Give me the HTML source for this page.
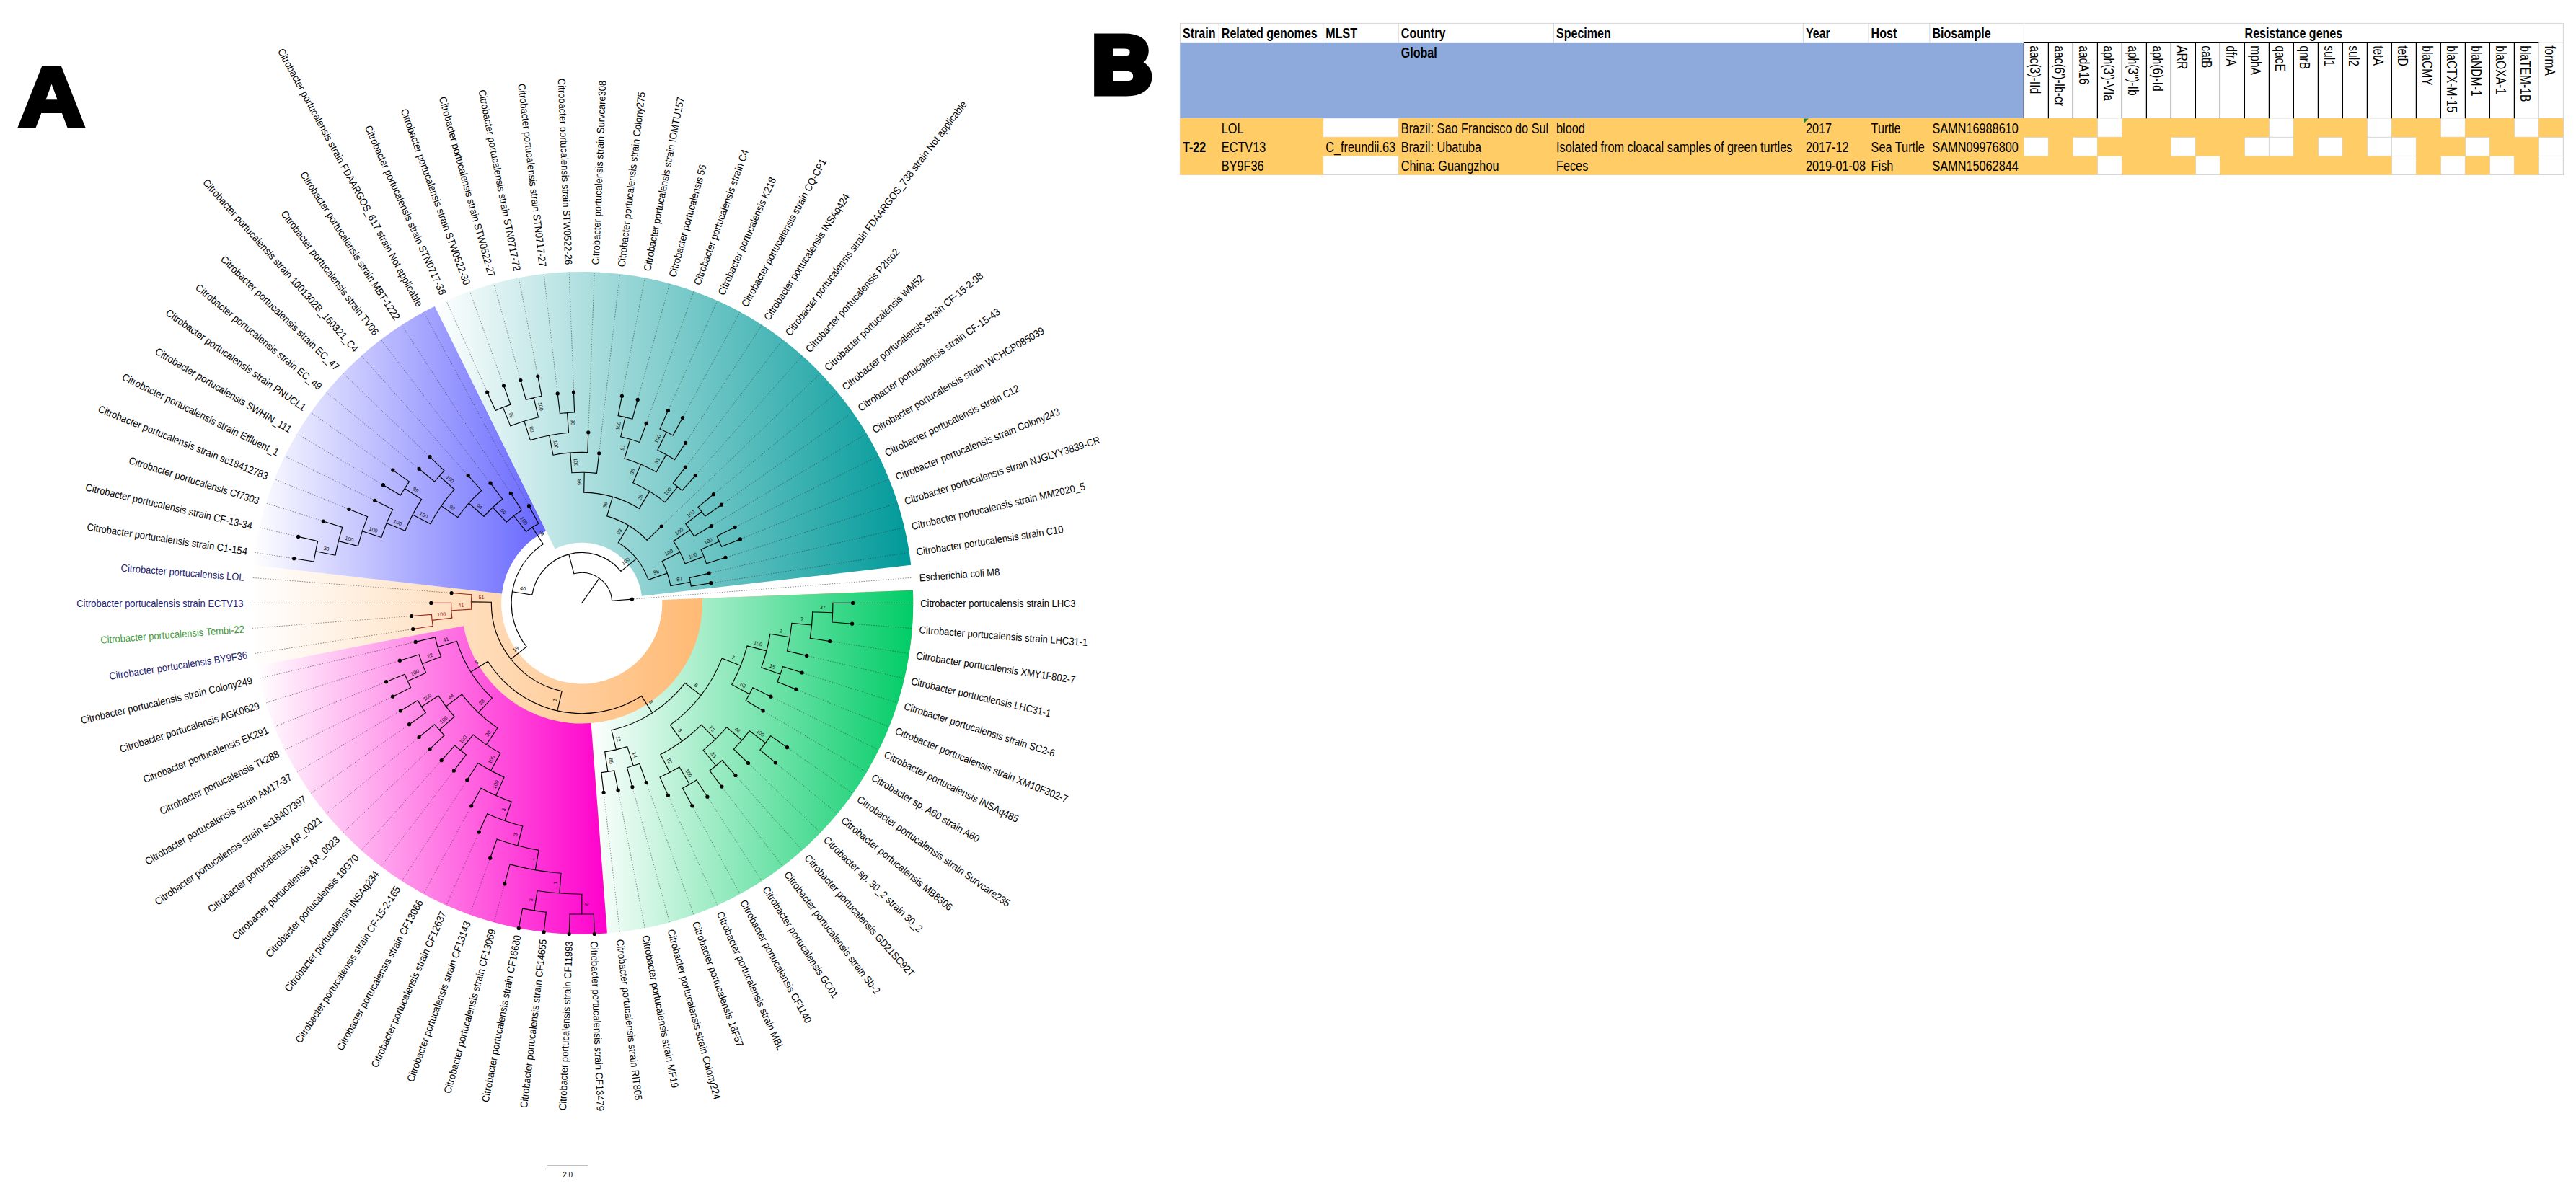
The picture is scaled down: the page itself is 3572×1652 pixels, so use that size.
<!DOCTYPE html>
<html><head><meta charset="utf-8"><title>Figure</title>
<style>html,body{margin:0;padding:0;background:#fff}svg{display:block}text{font-family:"Liberation Sans",sans-serif}</style>
</head><body>
<svg width="3572" height="1652" viewBox="0 0 3572 1652">
<rect width="3572" height="1652" fill="#fff"/>
<defs>
<linearGradient id="go" x1="0" y1="0" x2="1" y2="0"><stop offset="0" stop-color="#fff"/><stop offset="1" stop-color="#FF9933"/></linearGradient>
<linearGradient id="gb" x1="0" y1="0" x2="1" y2="0"><stop offset="0" stop-color="#fff"/><stop offset="1" stop-color="#6666FF"/></linearGradient>
<linearGradient id="gt" x1="0" y1="0" x2="1" y2="0"><stop offset="0" stop-color="#fff"/><stop offset="1" stop-color="#009999"/></linearGradient>
<linearGradient id="gg" x1="0" y1="0" x2="1" y2="0"><stop offset="0" stop-color="#fff"/><stop offset="1" stop-color="#00CC66"/></linearGradient>
<linearGradient id="gm" x1="0" y1="0" x2="1" y2="0"><stop offset="0" stop-color="#fff"/><stop offset="1" stop-color="#FF00CC"/></linearGradient>
</defs>
<path d="M918.2 832.1L1265.9 818.8A459.4 459.4 0 1 1 350.3 783.7L695.9 823.6A111.6 111.6 0 1 0 918.2 832.1Z" fill="url(#go)"/>
<path d="M695.9 823.6L350.3 783.7A459.4 459.4 0 0 1 602.9 424.7L757.2 736.4A111.6 111.6 0 0 0 695.9 823.6Z" fill="url(#gb)"/>
<path d="M769.6 761.4L602.9 424.7A459.4 459.4 0 0 1 1263.2 783.7L889.9 826.8A83.7 83.7 0 0 0 769.6 761.4Z" fill="url(#gt)"/>
<path d="M973.9 830L1265.9 818.8A459.4 459.4 0 0 1 841.9 1294.5L819.6 1003.1A167.2 167.2 0 0 0 973.9 830Z" fill="url(#gg)"/>
<path d="M819.6 1003.1L841.9 1294.5A459.4 459.4 0 0 1 355.7 923.9L642.6 868.2A167.2 167.2 0 0 0 819.6 1003.1Z" fill="url(#gm)"/>
<path d="M1185.2 836.4L1265.7 836.4M1184.1 865.4L1264.4 871.5M1153.3 889.9L1260.3 906.5M1121.1 910L1253.6 941M1114.5 933.8L1244.3 974.9M1106.1 957.1L1232.4 1008M1071.1 967.3L1218 1040M1060.3 987.1L1201.2 1070.9M1093.5 1038.1L1182.1 1100.4M1077.3 1059.5L1160.8 1128.4M1039.3 1060.2L1137.4 1154.7M1021.5 1077.4L1112.1 1179M1002.4 1093.1L1085 1201.4M982.2 1107.3L1056.2 1221.6M961 1120L1026 1239.6M927.4 1105.6L994.5 1255.2M897 1087.8L961.9 1268.3M877.5 1094L928.4 1278.9M857.6 1098.7L894.1 1287M837.4 1101.8L859.4 1292.3M824.4 1298L824.3 1295M789.1 1298L789.2 1295M753.8 1295.3L754.1 1292.3M718.8 1289.9L719.4 1287M699.1 1228.2L685.1 1278.9M678.8 1192.6L651.6 1268.3M663.3 1156.4L619 1255.2M652.5 1120L587.5 1239.6M646.4 1084L557.3 1221.6M627.9 1071L528.5 1201.4M610.5 1056.6L501.4 1179M594.2 1040.9L476.1 1154.7M579.2 1024.1L452.7 1128.4M565.5 1006.1L431.4 1100.4M553.2 987.1L412.3 1070.9M542.4 967.3L395.5 1040M533.2 946.7L381.1 1008M552.1 917L369.2 974.9M573.7 890.9L359.9 941M570.2 872.9L353.2 906.5M568.1 854.7L349.1 871.5M595.3 836.4L347.8 836.4M623.6 822.3L349.1 801.3M405.2 774.4L353.2 766.3M411.1 743.8L359.9 731.8M445.9 722.2L369.2 697.9M481.5 705.3L381.1 664.8M517.5 693.2L395.5 632.8M529.3 671.4L412.3 601.9M542.7 650.7L431.4 572.4M579.2 648.7L452.7 544.4M594.2 631.9L476.1 518.1M647.5 657.7L501.4 493.8M678.5 668.2L528.5 471.4M706.9 682.3L557.3 451.2M732.3 699.5L587.5 433.2M674.7 541.8L619 417.6M697.6 532.6L651.6 404.5M721.2 525.1L685.1 393.9M745.3 519.5L719.4 385.8M772.9 543.4L754.1 380.5M795.5 541.6L789.2 377.8M815.9 597.3L824.3 377.8M831 626.3L859.4 380.5M862.9 546.8L894.1 385.8M884.9 552L928.4 393.9M897 585L961.9 404.5M927.4 567.2L994.5 417.6M947.7 577.3L1026 433.2M952 612.2L1056.2 451.2M951.8 646.1L1085 471.4M966 657.7L1112.1 493.8M919 728.3L1137.4 518.1M991.4 684.1L1160.8 544.4M1002.5 698.7L1182.1 572.4M988.5 728.3L1201.2 601.9M1021.2 730.2L1218 632.8M1028.7 746.9L1232.4 664.8M1008.4 772.6L1244.3 697.9M985.6 794.6L1253.6 731.8M988.2 808.4L1260.3 766.3M878.9 830.9L1264.4 801.3" fill="none" stroke="#333" stroke-width="0.7" stroke-dasharray="1.5 1.9" opacity="0.8"/>
<path d="M1154.9 836.4A348.1 348.1 0 0 1 1153.9 863M1154.9 836.4L1182.7 836.4M1153.9 863L1181.6 865.2M1126.8 848.7A320.3 320.3 0 0 1 1123.3 885.3M1126.8 848.7L1154.6 849.7M1123.3 885.3L1150.8 889.5M1097.9 864.4A292.5 292.5 0 0 1 1091.5 903M1097.9 864.4L1125.6 867M1091.5 903L1118.6 909.4M1085.6 924.6A292.5 292.5 0 0 1 1078 945.7M1085.6 924.6L1112.1 933M1078 945.7L1103.8 956.1M1067.9 879.3A264.6 264.6 0 0 1 1055.8 925.9M1067.9 879.3L1095.4 883.8M1055.8 925.9L1082 935.3M1043.9 953.8A264.6 264.6 0 0 1 1034.2 971.6M1043.9 953.8L1068.9 966.2M1034.2 971.6L1058.1 985.9M1036 895.9A236.8 236.8 0 0 1 1014.8 949.5M1036 895.9L1062.9 902.9M1014.8 949.5L1039.2 962.8M1068.7 1020.7A320.3 320.3 0 0 1 1053.9 1040.2M1068.7 1020.7L1091.5 1036.7M1053.9 1040.2L1075.3 1057.9M1039.3 1013.7A292.5 292.5 0 0 1 1017.5 1039.2M1039.3 1013.7L1061.5 1030.6M1017.5 1039.2L1037.5 1058.5M1001.3 1054.7A292.5 292.5 0 0 1 984.1 1069M1001.3 1054.7L1019.9 1075.5M984.1 1069L1000.9 1091.1M1007.7 1008.7A264.6 264.6 0 0 1 975.1 1040.6M1007.7 1008.7L1028.8 1026.8M975.1 1040.6L992.8 1062M965.7 1081.9A292.5 292.5 0 0 1 946.5 1093.3M965.7 1081.9L980.9 1105.2M946.5 1093.3L959.8 1117.8M942 1063.9A264.6 264.6 0 0 1 915 1077.9M942 1063.9L956.2 1087.8M915 1077.9L926.4 1103.3M972.6 1005.4A236.8 236.8 0 0 1 915.9 1046.6M972.6 1005.4L992.1 1025.3M915.9 1046.6L928.7 1071.3M1001.1 913.1A209 209 0 0 1 929.4 1005.6M1001.1 913.1L1027 923.3M929.4 1005.6L945.8 1028.1M886.8 1059.3A236.8 236.8 0 0 1 869.5 1064.7M886.8 1059.3L896.2 1085.5M869.5 1064.7L876.9 1091.6M851.8 1068.9A236.8 236.8 0 0 1 833.9 1071.6M851.8 1068.9L857.1 1096.2M833.9 1071.6L837.1 1099.3M869.8 1035.6A209 209 0 0 1 838.7 1042.9M869.8 1035.6L878.2 1062.2M838.7 1042.9L842.9 1070.4M949.9 947.4A181.1 181.1 0 0 1 848 1012.8M949.9 947.4L971.9 964.5M848 1012.8L854.4 1039.9M823.3 1267.7A431.6 431.6 0 0 1 790.2 1267.7M823.3 1267.7L824.3 1295.5M790.2 1267.7L789.2 1295.5M757.3 1265.2A431.6 431.6 0 0 1 724.6 1260.1M757.3 1265.2L754.1 1292.8M724.6 1260.1L719.3 1287.4M806.8 1240.2A403.8 403.8 0 0 1 745.1 1235.5M806.8 1240.2L806.8 1268M745.1 1235.5L740.9 1263M778 1211.3A376 376 0 0 1 707.1 1198.9M778 1211.3L775.8 1239M707.1 1198.9L699.8 1225.8M747 1179.4A348.1 348.1 0 0 1 689.1 1164M747 1179.4L742.3 1206.8M689.1 1164L679.7 1190.2M724.8 1146A320.3 320.3 0 0 1 675.7 1128.7M724.8 1146L717.7 1173M675.7 1128.7L664.3 1154.1M709.2 1112.1A292.5 292.5 0 0 1 667 1093.3M709.2 1112.1L699.9 1138.4M667 1093.3L653.7 1117.8M699.1 1078.1A264.6 264.6 0 0 1 662.9 1058.5M699.1 1078.1L687.7 1103.6M662.9 1058.5L647.8 1081.9M646.3 1046.9A264.6 264.6 0 0 1 630.7 1034M646.3 1046.9L629.4 1069M630.7 1034L612.2 1054.7M693.9 1044.6A236.8 236.8 0 0 1 656.1 1019.1M693.9 1044.6L680.6 1069M656.1 1019.1L638.4 1040.6M616.1 1019.9A264.6 264.6 0 0 1 602.6 1004.8M616.1 1019.9L596 1039.2M602.6 1004.8L581.1 1022.5M590.3 988.7A264.6 264.6 0 0 1 579.3 971.6M590.3 988.7L567.5 1004.7M579.3 971.6L555.4 985.9M630 994A236.8 236.8 0 0 1 608 965.1M630 994L609.2 1012.5M608 965.1L584.6 980.2M689.9 1009.7A209 209 0 0 1 640.5 963.1M689.9 1009.7L674.4 1032.7M640.5 963.1L618.4 980M569.6 953.8A264.6 264.6 0 0 1 561.3 935.3M569.6 953.8L544.6 966.2M561.3 935.3L535.5 945.7M590.7 933.3A236.8 236.8 0 0 1 581 907.9M590.7 933.3L565.3 944.7M581 907.9L554.4 916.2M611.5 910.8A209 209 0 0 1 603.3 884M611.5 910.8L585.5 920.7M603.3 884L576.2 890.4M682.4 968.2A181.1 181.1 0 0 1 633.5 889.4M682.4 968.2L663.3 988.4M633.5 889.4L606.9 897.5M889.5 965.4A153.3 153.3 0 0 1 676.5 917.3M889.5 965.4L904.6 988.9M676.5 917.3L652.9 932M779.1 958.8A125.5 125.5 0 0 1 681.3 835.2M779.1 958.8L772.9 985.9M681.3 835.2L653.4 834.9M435.2 779A376 376 0 0 1 440.7 750.7M435.2 779L407.7 774.8M440.7 750.7L413.6 744.4M465 770.1A348.1 348.1 0 0 1 474.8 731.4M465 770.1L437.7 764.8M474.8 731.4L448.3 723M496.3 757.5A320.3 320.3 0 0 1 509.7 716.7M496.3 757.5L469.4 750.6M509.7 716.7L483.9 706.3M528.8 745.5A292.5 292.5 0 0 1 544.6 706.6M528.8 745.5L502.3 736.8M544.6 706.6L519.7 694.3M555.4 686.9A292.5 292.5 0 0 1 567.5 668.1M555.4 686.9L531.4 672.7M567.5 668.1L544.8 652.1M561.8 736.3A264.6 264.6 0 0 1 584.6 692.6M561.8 736.3L536 725.8M584.6 692.6L561.3 677.4M602.6 668A264.6 264.6 0 0 1 616.1 652.9M602.6 668L581.1 650.3M616.1 652.9L596 633.6M596.8 726.8A236.8 236.8 0 0 1 630 678.8M596.8 726.8L572.2 713.9M630 678.8L609.2 660.3M634.8 717.6A209 209 0 0 1 667.7 680.4M634.8 717.6L611.9 701.8M667.7 680.4L649.2 659.6M671 716.4A181.1 181.1 0 0 1 696.9 692.3M671 716.4L650.2 698M696.9 692.3L680.1 670.2M702.3 724.1A153.3 153.3 0 0 1 723.4 707.7M702.3 724.1L683.4 703.8M723.4 707.7L708.3 684.3M729.6 737.4A125.5 125.5 0 0 1 746.8 726.2M729.6 737.4L712.5 715.5M746.8 726.2L733.5 701.7M730.2 897A97.7 97.7 0 0 1 753.2 754.7M730.2 897L708.3 914.3M753.2 754.7L738 731.4M687.1 569.5A292.5 292.5 0 0 1 707.9 561.1M687.1 569.5L675.7 544.1M707.9 561.1L698.5 535M729.3 554.4A292.5 292.5 0 0 1 751.1 549.3M729.3 554.4L721.9 527.5M751.1 549.3L745.8 522M707.8 590.9A264.6 264.6 0 0 1 746.5 578.7M707.8 590.9L697.4 565.1M746.5 578.7L740.1 551.6M776.4 573.5A264.6 264.6 0 0 1 796.6 572M776.4 573.5L773.2 545.9M796.6 572L795.5 544.1M735.3 610.6A236.8 236.8 0 0 1 788.6 600.3M735.3 610.6L726.9 584.1M788.6 600.3L786.5 572.5M767 631.2A209 209 0 0 1 814.8 627.6M767 631.2L761.7 603.9M814.8 627.6L815.8 599.8M792.9 655.8A181.1 181.1 0 0 1 827.5 656.4M792.9 655.8L790.8 628M827.5 656.4L830.7 628.8M857.1 576.6A264.6 264.6 0 0 1 876.9 581.2M857.1 576.6L862.4 549.3M876.9 581.2L884.2 554.4M860.7 605.8A236.8 236.8 0 0 1 886.8 613.5M860.7 605.8L867 578.7M886.8 613.5L896.2 587.3M915 594.9A264.6 264.6 0 0 1 933.2 603.9M915 594.9L926.4 569.5M933.2 603.9L946.5 579.5M911.8 624.2A236.8 236.8 0 0 1 935.5 637.6M911.8 624.2L924.2 599.2M935.5 637.6L950.6 614.3M866 636A209 209 0 0 1 910.1 654.8M866 636L873.9 609.3M910.1 654.8L923.8 630.6M933.4 670.2A209 209 0 0 1 945.8 680.4M933.4 670.2L950.3 648.1M945.8 680.4L964.3 659.6M877.7 669.7A181.1 181.1 0 0 1 922 696.6M877.7 669.7L888.6 644.1M922 696.6L939.7 675.2M809.7 683.1A153.3 153.3 0 0 1 886.4 705.4M809.7 683.1L810.2 655.3M886.4 705.4L900.8 681.6M841.7 715.9A125.5 125.5 0 0 1 897.2 749.4M841.7 715.9L849.5 689.2M897.2 749.4L917.2 730.1M968 703.4A209 209 0 0 1 977.7 716.2M968 703.4L989.4 685.7M977.7 716.2L1000.4 700.2M950.8 726.6A181.1 181.1 0 0 1 962.5 743.8M950.8 726.6L973 709.7M962.5 743.8L986.4 729.6M994 743.7A209 209 0 0 1 1000.6 758.3M994 743.7L1019 731.3M1000.6 758.3L1026.4 747.9M972.1 762.3A181.1 181.1 0 0 1 979.5 781.7M972.1 762.3L997.4 750.9M979.5 781.7L1006 773.3M933.8 750.6A153.3 153.3 0 0 1 950 781.8M933.8 750.6L956.9 735M950 781.8L976 771.9M956 801.5A153.3 153.3 0 0 1 958.3 813M956 801.5L983.1 795.1M958.3 813L985.8 808.7M918.1 778.6A125.5 125.5 0 0 1 929.9 812.5M918.1 778.6L942.8 765.7M929.9 812.5L957.3 807.2M857.3 752.8A97.7 97.7 0 0 1 899 804.3M857.3 752.8L871.7 729M899 804.3L925.3 795.1M737.8 825.2A69.8 69.8 0 0 1 861 792.4M737.8 825.2L710.3 820.8M861 792.4L882.6 774.9M795.9 795.8A42 42 0 0 1 848.6 833.2M795.9 795.8L788.8 768.9M848.6 833.2L876.4 831.1M806.8 836.4L831 802.1" fill="none" stroke="#000" stroke-width="1.15" stroke-linecap="square"/>
<path d="M600.2 868.3A209 209 0 0 1 598.4 852.4M600.2 868.3L572.7 872.5M598.4 852.4L570.6 854.5M626.8 857.2A181.1 181.1 0 0 1 625.6 836.4M626.8 857.2L599.1 860.4M625.6 836.4L597.8 836.4M653.7 845.2A153.3 153.3 0 0 1 653.9 824.7M653.7 845.2L625.9 846.8M653.9 824.7L626.1 822.5" fill="none" stroke="#9c2b1e" stroke-width="1.15" stroke-linecap="square"/>
<g fill="#000"><circle cx="1182.7" cy="836.4" r="2.6"/><circle cx="1181.6" cy="865.2" r="2.6"/><circle cx="1150.8" cy="889.5" r="2.6"/><circle cx="1118.6" cy="909.4" r="2.6"/><circle cx="1112.1" cy="933" r="2.6"/><circle cx="1103.8" cy="956.1" r="2.6"/><circle cx="1068.9" cy="966.2" r="2.6"/><circle cx="1058.1" cy="985.9" r="2.6"/><circle cx="1091.5" cy="1036.7" r="2.6"/><circle cx="1075.3" cy="1057.9" r="2.6"/><circle cx="1037.5" cy="1058.5" r="2.6"/><circle cx="1019.9" cy="1075.5" r="2.6"/><circle cx="1000.9" cy="1091.1" r="2.6"/><circle cx="980.9" cy="1105.2" r="2.6"/><circle cx="959.8" cy="1117.8" r="2.6"/><circle cx="926.4" cy="1103.3" r="2.6"/><circle cx="896.2" cy="1085.5" r="2.6"/><circle cx="876.9" cy="1091.6" r="2.6"/><circle cx="857.1" cy="1096.2" r="2.6"/><circle cx="837.1" cy="1099.3" r="2.6"/><circle cx="824.3" cy="1295.5" r="2.6"/><circle cx="789.2" cy="1295.5" r="2.6"/><circle cx="754.1" cy="1292.8" r="2.6"/><circle cx="719.3" cy="1287.4" r="2.6"/><circle cx="699.8" cy="1225.8" r="2.6"/><circle cx="679.7" cy="1190.2" r="2.6"/><circle cx="664.3" cy="1154.1" r="2.6"/><circle cx="653.7" cy="1117.8" r="2.6"/><circle cx="647.8" cy="1081.9" r="2.6"/><circle cx="629.4" cy="1069" r="2.6"/><circle cx="612.2" cy="1054.7" r="2.6"/><circle cx="596" cy="1039.2" r="2.6"/><circle cx="581.1" cy="1022.5" r="2.6"/><circle cx="567.5" cy="1004.7" r="2.6"/><circle cx="555.4" cy="985.9" r="2.6"/><circle cx="544.6" cy="966.2" r="2.6"/><circle cx="535.5" cy="945.7" r="2.6"/><circle cx="554.4" cy="916.2" r="2.6"/><circle cx="576.2" cy="890.4" r="2.6"/><circle cx="572.7" cy="872.5" r="2.6"/><circle cx="570.6" cy="854.5" r="2.6"/><circle cx="597.8" cy="836.4" r="2.6"/><circle cx="626.1" cy="822.5" r="2.6"/><circle cx="407.7" cy="774.8" r="2.6"/><circle cx="413.6" cy="744.4" r="2.6"/><circle cx="448.3" cy="723" r="2.6"/><circle cx="483.9" cy="706.3" r="2.6"/><circle cx="519.7" cy="694.3" r="2.6"/><circle cx="531.4" cy="672.7" r="2.6"/><circle cx="544.8" cy="652.1" r="2.6"/><circle cx="581.1" cy="650.3" r="2.6"/><circle cx="596" cy="633.6" r="2.6"/><circle cx="649.2" cy="659.6" r="2.6"/><circle cx="680.1" cy="670.2" r="2.6"/><circle cx="708.3" cy="684.3" r="2.6"/><circle cx="733.5" cy="701.7" r="2.6"/><circle cx="675.7" cy="544.1" r="2.6"/><circle cx="698.5" cy="535" r="2.6"/><circle cx="721.9" cy="527.5" r="2.6"/><circle cx="745.8" cy="522" r="2.6"/><circle cx="773.2" cy="545.9" r="2.6"/><circle cx="795.5" cy="544.1" r="2.6"/><circle cx="815.8" cy="599.8" r="2.6"/><circle cx="830.7" cy="628.8" r="2.6"/><circle cx="862.4" cy="549.3" r="2.6"/><circle cx="884.2" cy="554.4" r="2.6"/><circle cx="896.2" cy="587.3" r="2.6"/><circle cx="926.4" cy="569.5" r="2.6"/><circle cx="946.5" cy="579.5" r="2.6"/><circle cx="950.6" cy="614.3" r="2.6"/><circle cx="950.3" cy="648.1" r="2.6"/><circle cx="964.3" cy="659.6" r="2.6"/><circle cx="917.2" cy="730.1" r="2.6"/><circle cx="989.4" cy="685.7" r="2.6"/><circle cx="1000.4" cy="700.2" r="2.6"/><circle cx="986.4" cy="729.6" r="2.6"/><circle cx="1019" cy="731.3" r="2.6"/><circle cx="1026.4" cy="747.9" r="2.6"/><circle cx="1006" cy="773.3" r="2.6"/><circle cx="983.1" cy="795.1" r="2.6"/><circle cx="985.8" cy="808.7" r="2.6"/><circle cx="876.4" cy="831.1" r="2.6"/></g>
<g font-size="7.2" text-anchor="middle" fill="#111"><text transform="translate(1140.7 849.2) rotate(2.2)" y="-4.2">37</text><text transform="translate(1111.7 865.7) rotate(5.5)" y="-4.2">7</text><text transform="translate(1081.6 881.6) rotate(9.3)" y="-4.2">2</text><text transform="translate(1068.9 930.6) rotate(19.8)" y="-4.2">15</text><text transform="translate(1049.4 899.4) rotate(14.5)" y="-4.2">100</text><text transform="translate(1027 956.2) rotate(28.5)" y="-4.2">63</text><text transform="translate(1050.4 1022.1) rotate(37.3)" y="-4.2">100</text><text transform="translate(1018.2 1017.7) rotate(40.6)" y="-4.2">46</text><text transform="translate(984 1051.3) rotate(50.5)" y="-4.2">33</text><text transform="translate(949.1 1075.8) rotate(59.3)" y="-4.2">100</text><text transform="translate(982.3 1015.4) rotate(45.5)" y="-4.2">73</text><text transform="translate(922.3 1058.9) rotate(62.6)" y="-4.2">82</text><text transform="translate(1014.1 918.2) rotate(21.5)" y="-4.2">7</text><text transform="translate(937.6 1016.9) rotate(54.1)" y="-4.2">8</text><text transform="translate(874 1048.9) rotate(72.4)" y="-4.2">14</text><text transform="translate(840.8 1056.7) rotate(81.2)" y="-4.2">85</text><text transform="translate(960.9 955.9) rotate(37.8)" y="-4.2">6</text><text transform="translate(851.2 1026.3) rotate(76.8)" y="-4.2">12</text><text transform="translate(806.8 1254.1) rotate(90)" y="-4.2">3</text><text transform="translate(743 1249.2) rotate(278.8)" y="-4.2">3</text><text transform="translate(776.9 1225.1) rotate(274.4)" y="-4.2">1</text><text transform="translate(744.6 1193.1) rotate(279.9)" y="-4.2">1</text><text transform="translate(721.3 1159.5) rotate(284.8)" y="-4.2">3</text><text transform="translate(704.6 1125.2) rotate(289.5)" y="-4.2">3</text><text transform="translate(693.4 1090.9) rotate(294)" y="-4.2">100</text><text transform="translate(687.2 1056.8) rotate(298.5)" y="-4.2">100</text><text transform="translate(647.2 1029.8) rotate(309.5)" y="-4.2">100</text><text transform="translate(619.6 1003.2) rotate(318.3)" y="-4.2">100</text><text transform="translate(596.3 972.7) rotate(327.1)" y="-4.2">100</text><text transform="translate(682.1 1021.2) rotate(304)" y="-4.2">30</text><text transform="translate(629.5 971.5) rotate(322.7)" y="-4.2">44</text><text transform="translate(578 939) rotate(335.9)" y="-4.2">100</text><text transform="translate(598.5 915.7) rotate(339.1)" y="-4.2">22</text><text transform="translate(672.9 978.3) rotate(313.3)" y="-4.2">28</text><text transform="translate(620.2 893.5) rotate(343)" y="-4.2">41</text><text transform="translate(897.1 977.2) rotate(57.3)" y="-4.2">3</text><text transform="translate(664.7 924.6) rotate(328.2)" y="-4.2">5</text><text transform="translate(613 858.8) rotate(353.4)" y="-4.2" fill="#9c2b1e">100</text><text transform="translate(639.8 846) rotate(356.7)" y="-4.2" fill="#9c2b1e">41</text><text transform="translate(776 972.4) rotate(282.7)" y="-4.2">1</text><text transform="translate(667.4 835.1) rotate(0.5)" y="-4.2" fill="#9c2b1e">51</text><text transform="translate(451.3 767.5) rotate(11)" y="-4.2">38</text><text transform="translate(482.8 754) rotate(14.3)" y="-4.2">100</text><text transform="translate(515.5 741.2) rotate(18.1)" y="-4.2">100</text><text transform="translate(548.9 731) rotate(22.2)" y="-4.2">100</text><text transform="translate(572.9 685) rotate(32.9)" y="-4.2">99</text><text transform="translate(584.5 720.3) rotate(27.6)" y="-4.2">100</text><text transform="translate(619.6 669.6) rotate(41.7)" y="-4.2">100</text><text transform="translate(623.4 709.7) rotate(34.6)" y="-4.2">93</text><text transform="translate(660.6 707.2) rotate(41.5)" y="-4.2">64</text><text transform="translate(692.9 713.9) rotate(47.1)" y="-4.2">69</text><text transform="translate(721.1 726.4) rotate(52.1)" y="-4.2">100</text><text transform="translate(719.3 905.6) rotate(321.6)" y="-4.2">19</text><text transform="translate(745.6 743.1) rotate(56.8)" y="-4.2">94</text><text transform="translate(702.6 578) rotate(68)" y="-4.2">79</text><text transform="translate(743.3 565.2) rotate(76.8)" y="-4.2">100</text><text transform="translate(731.1 597.4) rotate(72.4)" y="-4.2">80</text><text transform="translate(787.6 586.4) rotate(85.6)" y="-4.2">96</text><text transform="translate(764.3 617.6) rotate(79)" y="-4.2">100</text><text transform="translate(791.8 641.9) rotate(85.6)" y="-4.2">100</text><text transform="translate(863.9 592.3) rotate(283.2)" y="-4.2">100</text><text transform="translate(918 611.7) rotate(296.3)" y="-4.2">100</text><text transform="translate(869.9 622.6) rotate(286.5)" y="-4.2">91</text><text transform="translate(917 642.7) rotate(299.6)" y="-4.2">33</text><text transform="translate(883.1 656.9) rotate(293)" y="-4.2">36</text><text transform="translate(930.9 685.9) rotate(309.5)" y="-4.2">100</text><text transform="translate(810 669.2) rotate(271.1)" y="-4.2">98</text><text transform="translate(893.6 693.5) rotate(301.3)" y="-4.2">28</text><text transform="translate(845.6 702.5) rotate(286.2)" y="-4.2">36</text><text transform="translate(961.9 718.1) rotate(322.7)" y="-4.2">100</text><text transform="translate(984.7 756.6) rotate(335.9)" y="-4.2">100</text><text transform="translate(945.4 742.8) rotate(326)" y="-4.2">100</text><text transform="translate(963 776.9) rotate(339.1)" y="-4.2">100</text><text transform="translate(930.5 772.2) rotate(332.6)" y="-4.2">100</text><text transform="translate(943.6 809.9) rotate(349)" y="-4.2">87</text><text transform="translate(864.5 740.9) rotate(301.1)" y="-4.2">93</text><text transform="translate(912.1 799.7) rotate(340.8)" y="-4.2">98</text><text transform="translate(724.1 823) rotate(9.2)" y="-4.2">40</text><text transform="translate(871.8 783.7) rotate(321)" y="-4.2">100</text></g>
<g font-size="14.3" fill="#000"><text transform="translate(1276.2 836.4) rotate(0) scale(.907 1)" y="5.9">Citrobacter portucalensis strain LHC3</text><text transform="translate(1274.8 872.3) rotate(4.4) scale(.907 1)" y="5.9">Citrobacter portucalensis strain LHC31-1</text><text transform="translate(1270.6 908.1) rotate(8.8) scale(.907 1)" y="5.9">Citrobacter portucalensis XMY1F802-7</text><text transform="translate(1263.8 943.4) rotate(13.2) scale(.907 1)" y="5.9">Citrobacter portucalensis LHC31-1</text><text transform="translate(1254.3 978) rotate(17.6) scale(.907 1)" y="5.9">Citrobacter portucalensis strain SC2-6</text><text transform="translate(1242.1 1011.9) rotate(22) scale(.907 1)" y="5.9">Citrobacter portucalensis strain XM10F302-7</text><text transform="translate(1227.4 1044.7) rotate(26.3) scale(.907 1)" y="5.9">Citrobacter portucalensis INSAq485</text><text transform="translate(1210.2 1076.3) rotate(30.7) scale(.907 1)" y="5.9">Citrobacter sp. A60 strain A60</text><text transform="translate(1190.7 1106.5) rotate(35.1) scale(.907 1)" y="5.9">Citrobacter portucalensis strain Survcare235</text><text transform="translate(1168.9 1135.1) rotate(39.5) scale(.907 1)" y="5.9">Citrobacter portucalensis MB8306</text><text transform="translate(1145 1161.9) rotate(43.9) scale(.907 1)" y="5.9">Citrobacter sp. 30_2 strain 30_2</text><text transform="translate(1119.1 1186.8) rotate(48.3) scale(.907 1)" y="5.9">Citrobacter portucalensis GD21SC92T</text><text transform="translate(1091.3 1209.7) rotate(52.7) scale(.907 1)" y="5.9">Citrobacter portucalensis strain Sb-2</text><text transform="translate(1061.9 1230.4) rotate(57.1) scale(.907 1)" y="5.9">Citrobacter portucalensis GC01</text><text transform="translate(1031 1248.8) rotate(61.5) scale(.907 1)" y="5.9">Citrobacter portucalensis CF1140</text><text transform="translate(998.8 1264.7) rotate(65.9) scale(.907 1)" y="5.9">Citrobacter portucalensis strain MBL</text><text transform="translate(965.4 1278.2) rotate(70.2) scale(.907 1)" y="5.9">Citrobacter portucalensis 16F57</text><text transform="translate(931.1 1289) rotate(74.6) scale(.907 1)" y="5.9">Citrobacter portucalensis strain Colony224</text><text transform="translate(896.1 1297.2) rotate(79) scale(.907 1)" y="5.9">Citrobacter portucalensis strain MF19</text><text transform="translate(860.6 1302.7) rotate(83.4) scale(.907 1)" y="5.9">Citrobacter portucalensis strain RIT805</text><text transform="translate(824.7 1305.5) rotate(87.8) scale(.907 1)" y="5.9">Citrobacter portucalensis strain CF13479</text><text transform="translate(788.8 1305.5) rotate(272.2) scale(.907 1)" y="5.2" text-anchor="end">Citrobacter portucalensis strain CF11993</text><text transform="translate(752.9 1302.7) rotate(276.6) scale(.907 1)" y="5.2" text-anchor="end">Citrobacter portucalensis strain CF14655</text><text transform="translate(717.4 1297.2) rotate(281) scale(.907 1)" y="5.2" text-anchor="end">Citrobacter portucalensis strain CF16680</text><text transform="translate(682.4 1289) rotate(285.4) scale(.907 1)" y="5.2" text-anchor="end">Citrobacter portucalensis strain CF13069</text><text transform="translate(648.1 1278.2) rotate(289.8) scale(.907 1)" y="5.2" text-anchor="end">Citrobacter portucalensis strain CF13143</text><text transform="translate(614.7 1264.7) rotate(294.1) scale(.907 1)" y="5.2" text-anchor="end">Citrobacter portucalensis strain CF12637</text><text transform="translate(582.5 1248.8) rotate(298.5) scale(.907 1)" y="5.2" text-anchor="end">Citrobacter portucalensis strain CF13066</text><text transform="translate(551.6 1230.4) rotate(302.9) scale(.907 1)" y="5.2" text-anchor="end">Citrobacter portucalensis strain CF-15-2-165</text><text transform="translate(522.2 1209.7) rotate(307.3) scale(.907 1)" y="5.2" text-anchor="end">Citrobacter portucalensis INSAq234</text><text transform="translate(494.4 1186.8) rotate(311.7) scale(.907 1)" y="5.2" text-anchor="end">Citrobacter portucalensis 16G70</text><text transform="translate(468.5 1161.9) rotate(316.1) scale(.907 1)" y="5.2" text-anchor="end">Citrobacter portucalensis AR_0023</text><text transform="translate(444.6 1135.1) rotate(320.5) scale(.907 1)" y="5.2" text-anchor="end">Citrobacter portucalensis AR_0021</text><text transform="translate(422.8 1106.5) rotate(324.9) scale(.907 1)" y="5.2" text-anchor="end">Citrobacter portucalensis strain sc18407397</text><text transform="translate(403.3 1076.3) rotate(329.3) scale(.907 1)" y="5.2" text-anchor="end">Citrobacter portucalensis strain AM17-37</text><text transform="translate(386.1 1044.7) rotate(333.7) scale(.907 1)" y="5.2" text-anchor="end">Citrobacter portucalensis Tk288</text><text transform="translate(371.4 1011.9) rotate(338) scale(.907 1)" y="5.2" text-anchor="end">Citrobacter portucalensis EK291</text><text transform="translate(359.2 978) rotate(342.4) scale(.907 1)" y="5.2" text-anchor="end">Citrobacter portucalensis AGK0629</text><text transform="translate(349.7 943.4) rotate(346.8) scale(.907 1)" y="5.2" text-anchor="end">Citrobacter portucalensis strain Colony249</text><text transform="translate(342.9 908.1) rotate(351.2) scale(.907 1)" y="5.2" text-anchor="end" fill="#1c1c70">Citrobacter portucalensis BY9F36</text><text transform="translate(338.7 872.3) rotate(355.6) scale(.907 1)" y="5.2" text-anchor="end" fill="#3f9a3a">Citrobacter portucalensis Tembi-22</text><text transform="translate(337.4 836.4) rotate(0) scale(.907 1)" y="5.2" text-anchor="end" fill="#1c1c70">Citrobacter portucalensis strain ECTV13</text><text transform="translate(338.7 800.5) rotate(4.4) scale(.907 1)" y="5.2" text-anchor="end" fill="#1c1c70">Citrobacter portucalensis LOL</text><text transform="translate(342.9 764.7) rotate(8.8) scale(.907 1)" y="5.2" text-anchor="end">Citrobacter portucalensis strain C1-154</text><text transform="translate(349.7 729.4) rotate(13.2) scale(.907 1)" y="5.2" text-anchor="end">Citrobacter portucalensis strain CF-13-34</text><text transform="translate(359.2 694.8) rotate(17.6) scale(.907 1)" y="5.2" text-anchor="end">Citrobacter portucalensis Cf7303</text><text transform="translate(371.4 660.9) rotate(22) scale(.907 1)" y="5.2" text-anchor="end">Citrobacter portucalensis strain sc18412783</text><text transform="translate(386.1 628.1) rotate(26.3) scale(.907 1)" y="5.2" text-anchor="end">Citrobacter portucalensis strain Effluent_1</text><text transform="translate(403.3 596.5) rotate(30.7) scale(.907 1)" y="5.2" text-anchor="end">Citrobacter portucalensis SWHIN_111</text><text transform="translate(422.8 566.3) rotate(35.1) scale(.907 1)" y="5.2" text-anchor="end">Citrobacter portucalensis strain PNUCL1</text><text transform="translate(444.6 537.7) rotate(39.5) scale(.907 1)" y="5.2" text-anchor="end">Citrobacter portucalensis strain EC_49</text><text transform="translate(468.5 510.9) rotate(43.9) scale(.907 1)" y="5.2" text-anchor="end">Citrobacter portucalensis strain EC_47</text><text transform="translate(494.4 486) rotate(48.3) scale(.907 1)" y="5.2" text-anchor="end">Citrobacter portucalensis strain 1001302B_160321_C4</text><text transform="translate(522.2 463.1) rotate(52.7) scale(.907 1)" y="5.2" text-anchor="end">Citrobacter portucalensis strain TV06</text><text transform="translate(551.6 442.4) rotate(57.1) scale(.907 1)" y="5.2" text-anchor="end">Citrobacter portucalensis strain MBT-1222</text><text transform="translate(582.5 424) rotate(61.5) scale(.907 1)" y="5.2" text-anchor="end">Citrobacter portucalensis strain FDAARGOS_617 strain Not applicable</text><text transform="translate(614.7 408.1) rotate(65.9) scale(.907 1)" y="5.2" text-anchor="end">Citrobacter portucalensis strain STN0717-36</text><text transform="translate(648.1 394.6) rotate(70.2) scale(.907 1)" y="5.2" text-anchor="end">Citrobacter portucalensis strain STW0522-30</text><text transform="translate(682.4 383.8) rotate(74.6) scale(.907 1)" y="5.2" text-anchor="end">Citrobacter portucalensis strain STW0522-27</text><text transform="translate(717.4 375.6) rotate(79) scale(.907 1)" y="5.2" text-anchor="end">Citrobacter portucalensis strain STN0717-72</text><text transform="translate(752.9 370.1) rotate(83.4) scale(.907 1)" y="5.2" text-anchor="end">Citrobacter portucalensis strain STN0717-27</text><text transform="translate(788.8 367.3) rotate(87.8) scale(.907 1)" y="5.2" text-anchor="end">Citrobacter portucalensis strain STW0522-26</text><text transform="translate(824.7 367.3) rotate(272.2) scale(.907 1)" y="5.9">Citrobacter portucalensis strain Survcare308</text><text transform="translate(860.6 370.1) rotate(276.6) scale(.907 1)" y="5.9">Citrobacter portucalensis strain Colony275</text><text transform="translate(896.1 375.6) rotate(281) scale(.907 1)" y="5.9">Citrobacter portucalensis strain IOMTU157</text><text transform="translate(931.1 383.8) rotate(285.4) scale(.907 1)" y="5.9">Citrobacter portucalensis 56</text><text transform="translate(965.4 394.6) rotate(289.8) scale(.907 1)" y="5.9">Citrobacter portucalensis strain C4</text><text transform="translate(998.8 408.1) rotate(294.1) scale(.907 1)" y="5.9">Citrobacter portucalensis K218</text><text transform="translate(1031 424) rotate(298.5) scale(.907 1)" y="5.9">Citrobacter portucalensis strain CQ-CP1</text><text transform="translate(1061.9 442.4) rotate(302.9) scale(.907 1)" y="5.9">Citrobacter portucalensis INSAq424</text><text transform="translate(1091.3 463.1) rotate(307.3) scale(.907 1)" y="5.9">Citrobacter portucalensis strain FDAARGOS_738 strain Not applicable</text><text transform="translate(1119.1 486) rotate(311.7) scale(.907 1)" y="5.9">Citrobacter portucalensis P2Iso2</text><text transform="translate(1145 510.9) rotate(316.1) scale(.907 1)" y="5.9">Citrobacter portucalensis WM52</text><text transform="translate(1168.9 537.7) rotate(320.5) scale(.907 1)" y="5.9">Citrobacter portucalensis strain CF-15-2-98</text><text transform="translate(1190.7 566.3) rotate(324.9) scale(.907 1)" y="5.9">Citrobacter portucalensis strain CF-15-43</text><text transform="translate(1210.2 596.5) rotate(329.3) scale(.907 1)" y="5.9">Citrobacter portucalensis strain WCHCP085039</text><text transform="translate(1227.4 628.1) rotate(333.7) scale(.907 1)" y="5.9">Citrobacter portucalensis strain C12</text><text transform="translate(1242.1 660.9) rotate(338) scale(.907 1)" y="5.9">Citrobacter portucalensis strain Colony243</text><text transform="translate(1254.3 694.8) rotate(342.4) scale(.907 1)" y="5.9">Citrobacter portucalensis strain NJGLYY3839-CR</text><text transform="translate(1263.8 729.4) rotate(346.8) scale(.907 1)" y="5.9">Citrobacter portucalensis strain MM2020_5</text><text transform="translate(1270.6 764.7) rotate(351.2) scale(.907 1)" y="5.9">Citrobacter portucalensis strain C10</text><text transform="translate(1274.8 800.5) rotate(355.6) scale(.907 1)" y="5.9">Escherichia coli M8</text></g>
<path d="M759.2 1617.3H815.8" stroke="#000" stroke-width="1.2"/>
<text x="787.2" y="1632.5" font-size="10" text-anchor="middle">2.0</text>
<g font-weight="bold" fill="#000" stroke="#000" stroke-linejoin="miter">
<text transform="translate(25.7 174.7) scale(1.091 1)" font-size="116.3" stroke-width="6">A</text>
<text transform="translate(1514.1 128.6) scale(1.035 1)" font-size="112.5" stroke-width="9">B</text>
</g>
<rect x="1636.4" y="32.4" width="1918" height="210.1" fill="#fff" stroke="#d6d6d6" stroke-width="1"/>
<path d="M1690.2 32.4V59.2M1834.7 32.4V59.2M1939.2 32.4V59.2M2154.4 32.4V59.2M2500.3 32.4V59.2M2591 32.4V59.2M2675.8 32.4V59.2M2806.4 32.4V59.2M2806.4 163.9V242.5M2840.4 163.9V242.5M2874.4 163.9V242.5M2908.4 163.9V242.5M2942.4 163.9V242.5M2976.4 163.9V242.5M3010.4 163.9V242.5M3044.4 163.9V242.5M3078.4 163.9V242.5M3112.4 163.9V242.5M3146.4 163.9V242.5M3180.4 163.9V242.5M3214.4 163.9V242.5M3248.4 163.9V242.5M3282.4 163.9V242.5M3316.4 163.9V242.5M3350.4 163.9V242.5M3384.4 163.9V242.5M3418.4 163.9V242.5M3452.4 163.9V242.5M3486.4 163.9V242.5M3520.4 163.9V242.5M3554.4 163.9V242.5M2806.4 163.9H3554.4M2806.4 190.3H3554.4M2806.4 216.4H3554.4M2806.4 242.5H3554.4M1636.4 59.2H3554.4M1834.7 163.9V242.5M1939.2 163.9V242.5M1834.7 163.9H1939.2M1834.7 190.3H1939.2M1834.7 216.4H1939.2M1834.7 242.5H1939.2M3520.4 59.2V163.9" fill="none" stroke="#d6d6d6" stroke-width="1"/>
<rect x="1636.4" y="59.2" width="1170" height="104.7" fill="#8EA9DB"/>
<rect x="1636.4" y="163.9" width="198.3" height="78.6" fill="#FFCC66"/>
<rect x="1939.2" y="163.9" width="867.2" height="78.6" fill="#FFCC66"/>
<rect x="1834.7" y="190.3" width="104.5" height="26.1" fill="#FFCC66"/>
<path d="M2805.7 163.9H2908.4V190.3H2805.7ZM2942.4 163.9H3146.4V190.3H2942.4ZM3180.4 163.9H3282.4V190.3H3180.4ZM3316.4 163.9H3384.4V190.3H3316.4ZM3418.4 163.9H3486.4V190.3H3418.4ZM3520.4 163.9H3554.4V190.3H3520.4ZM2840.4 190.3H2874.4V216.4H2840.4ZM2908.4 190.3H3010.4V216.4H2908.4ZM3044.4 190.3H3112.4V216.4H3044.4ZM3180.4 190.3H3214.4V216.4H3180.4ZM3248.4 190.3H3282.4V216.4H3248.4ZM3350.4 190.3H3418.4V216.4H3350.4ZM3452.4 190.3H3520.4V216.4H3452.4ZM2805.7 216.4H2908.4V242.5H2805.7ZM2942.4 216.4H3044.4V242.5H2942.4ZM3078.4 216.4H3316.4V242.5H3078.4ZM3350.4 216.4H3384.4V242.5H3350.4ZM3418.4 216.4H3452.4V242.5H3418.4ZM3486.4 216.4H3520.4V242.5H3486.4Z" fill="#FFCC66"/>
<path d="M2806.4 59.2V164.3M2840.4 59.2V164.3M2874.4 59.2V164.3M2908.4 59.2V164.3M2942.4 59.2V164.3M2976.4 59.2V164.3M3010.4 59.2V164.3M3044.4 59.2V164.3M3078.4 59.2V164.3M3112.4 59.2V164.3M3146.4 59.2V164.3M3180.4 59.2V164.3M3214.4 59.2V164.3M3248.4 59.2V164.3M3282.4 59.2V164.3M3316.4 59.2V164.3M3350.4 59.2V164.3M3384.4 59.2V164.3M3418.4 59.2V164.3M3452.4 59.2V164.3M3486.4 59.2V164.3" fill="none" stroke="#000" stroke-width="1.25"/>
<path d="M2805.9 59H3520.4" fill="none" stroke="#000" stroke-width="2"/>
<path d="M2501.1 164.4h6.8l-6.8 6.8z" fill="#1e7e34"/>
<g font-size="19.3" fill="#000"><text transform="translate(1640 52.9) scale(0.832 1)" font-weight="bold">Strain</text><text transform="translate(1693.8 52.9) scale(0.832 1)" font-weight="bold">Related genomes</text><text transform="translate(1838.3 52.9) scale(0.832 1)" font-weight="bold">MLST</text><text transform="translate(1942.8 52.9) scale(0.832 1)" font-weight="bold">Country</text><text transform="translate(2158 52.9) scale(0.832 1)" font-weight="bold">Specimen</text><text transform="translate(2503.9 52.9) scale(0.832 1)" font-weight="bold">Year</text><text transform="translate(2594.6 52.9) scale(0.832 1)" font-weight="bold">Host</text><text transform="translate(2679.4 52.9) scale(0.832 1)" font-weight="bold">Biosample</text><text transform="translate(3180.4 52.9) scale(0.832 1)" font-weight="bold" text-anchor="middle">Resistance genes</text><text transform="translate(1942.8 79.7) scale(0.832 1)" font-weight="bold">Global</text><text transform="translate(1693.8 184.6) scale(0.8435 1)">LOL</text><text transform="translate(1942.8 184.6) scale(0.8435 1)">Brazil: Sao Francisco do Sul</text><text transform="translate(2158 184.6) scale(0.8435 1)">blood</text><text transform="translate(2503.9 184.6) scale(0.8435 1)">2017</text><text transform="translate(2594.6 184.6) scale(0.8435 1)">Turtle</text><text transform="translate(2679.4 184.6) scale(0.8435 1)">SAMN16988610</text><text transform="translate(1640 210.7) scale(0.832 1)" font-weight="bold">T-22</text><text transform="translate(1693.8 210.7) scale(0.8435 1)">ECTV13</text><text transform="translate(1838.3 210.7) scale(0.8435 1)">C_freundii.63</text><text transform="translate(1942.8 210.7) scale(0.8435 1)">Brazil: Ubatuba</text><text transform="translate(2158 210.7) scale(0.8435 1)">Isolated from cloacal samples of green turtles</text><text transform="translate(2503.9 210.7) scale(0.8435 1)">2017-12</text><text transform="translate(2594.6 210.7) scale(0.8435 1)">Sea Turtle</text><text transform="translate(2679.4 210.7) scale(0.8435 1)">SAMN09976800</text><text transform="translate(1693.8 236.7) scale(0.8435 1)">BY9F36</text><text transform="translate(1942.8 236.7) scale(0.8435 1)">China: Guangzhou</text><text transform="translate(2158 236.7) scale(0.8435 1)">Feces</text><text transform="translate(2503.9 236.7) scale(0.8435 1)">2019-01-08</text><text transform="translate(2594.6 236.7) scale(0.8435 1)">Fish</text><text transform="translate(2679.4 236.7) scale(0.8435 1)">SAMN15062844</text><text transform="translate(2814.6 63.2) rotate(90) scale(.782 1)" font-size="20">aac(3)-IId</text><text transform="translate(2848.6 63.2) rotate(90) scale(.782 1)" font-size="20">aac(6')-Ib-cr</text><text transform="translate(2882.6 63.2) rotate(90) scale(.782 1)" font-size="20">aadA16</text><text transform="translate(2916.6 63.2) rotate(90) scale(.782 1)" font-size="20">aph(3')-VIa</text><text transform="translate(2950.6 63.2) rotate(90) scale(.782 1)" font-size="20">aph(3'')-Ib</text><text transform="translate(2984.6 63.2) rotate(90) scale(.782 1)" font-size="20">aph(6)-Id</text><text transform="translate(3018.6 63.2) rotate(90) scale(.782 1)" font-size="20">ARR</text><text transform="translate(3052.6 63.2) rotate(90) scale(.782 1)" font-size="20">catB</text><text transform="translate(3086.6 63.2) rotate(90) scale(.782 1)" font-size="20">dfrA</text><text transform="translate(3120.6 63.2) rotate(90) scale(.782 1)" font-size="20">mphA</text><text transform="translate(3154.6 63.2) rotate(90) scale(.782 1)" font-size="20">qacE</text><text transform="translate(3188.6 63.2) rotate(90) scale(.782 1)" font-size="20">qnrB</text><text transform="translate(3222.6 63.2) rotate(90) scale(.782 1)" font-size="20">sul1</text><text transform="translate(3256.6 63.2) rotate(90) scale(.782 1)" font-size="20">sul2</text><text transform="translate(3290.6 63.2) rotate(90) scale(.782 1)" font-size="20">tetA</text><text transform="translate(3324.6 63.2) rotate(90) scale(.782 1)" font-size="20">tetD</text><text transform="translate(3358.6 63.2) rotate(90) scale(.782 1)" font-size="20">blaCMY</text><text transform="translate(3392.6 63.2) rotate(90) scale(.782 1)" font-size="20">blaCTX-M-15</text><text transform="translate(3426.6 63.2) rotate(90) scale(.782 1)" font-size="20">blaNDM-1</text><text transform="translate(3460.6 63.2) rotate(90) scale(.782 1)" font-size="20">blaOXA-1</text><text transform="translate(3494.6 63.2) rotate(90) scale(.782 1)" font-size="20">blaTEM-1B</text><text transform="translate(3528.6 63.2) rotate(90) scale(.782 1)" font-size="20">formA</text></g>
</svg>
</body></html>
